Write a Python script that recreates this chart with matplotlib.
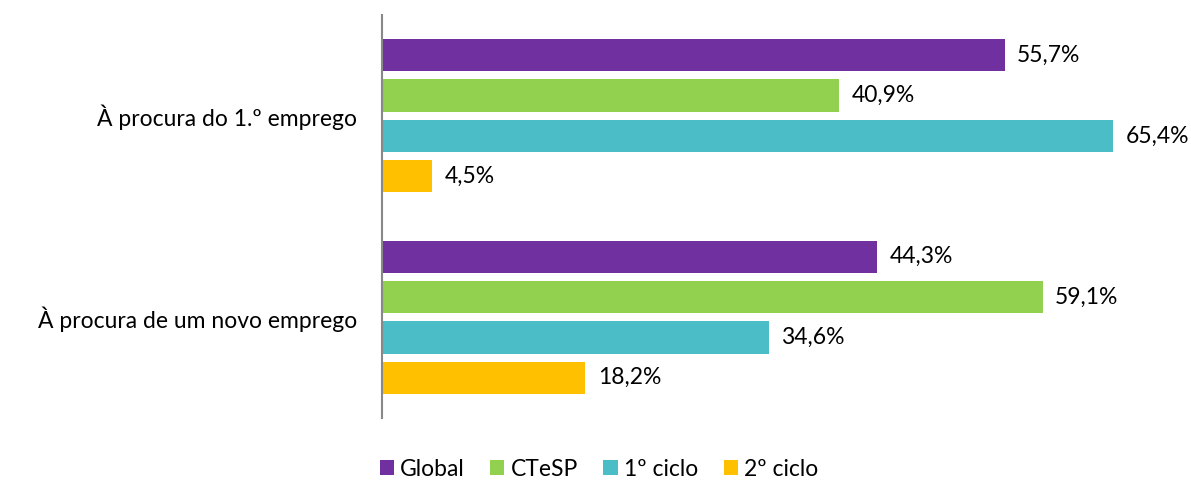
import numpy as np
import matplotlib.pyplot as plt
from matplotlib.patches import Patch

plt.rcParams['font.family'] = ['Lato', 'DejaVu Sans']

categories = ["À procura do 1.º emprego", "À procura de um novo emprego"]
series = ["Global", "CTeSP", "1º ciclo", "2º ciclo"]
global_vals = [55.7, 44.3]
ctesp_vals = [40.9, 59.1]
ciclo1_vals = [65.4, 34.6]
ciclo2_vals = [4.5, 18.2]
colors = ["#7030A0", "#92D050", "#4BBDC6", "#FFC000"]

values = [global_vals, ctesp_vals, ciclo1_vals, ciclo2_vals]
fs = 16.5

fig = plt.figure(figsize=(11.91, 4.83), dpi=100)
ax = fig.add_axes([0.3207, 0.1346, 0.6573, 0.8344])

y = np.arange(len(categories))
step = 0.2
height = 0.16
for i, (name, vals, c) in enumerate(zip(series, values, colors)):
    pos = y + (i - 1.5) * step
    ax.barh(pos, vals, height=height, color=c, label=name)
    for p, v in zip(pos, vals):
        ax.text(v + 1.1, p, f"{v:.1f}%".replace(".", ","), va="center",
                ha="left", fontsize=fs, color="#000000")

ax.set_xlim(0, 70)
ax.set_ylim(len(categories) - 0.5, -0.5)
ax.set_yticks(y)
ax.set_yticklabels(categories, fontsize=fs)
ax.tick_params(axis="y", length=0, pad=18)
ax.set_xticks([])
for s in ["top", "right", "bottom"]:
    ax.spines[s].set_visible(False)
ax.spines["left"].set_color("#888888")
ax.spines["left"].set_linewidth(1.5)

handles = [Patch(facecolor=c, label=n) for n, c in zip(series, colors)]
fig.legend(handles=handles, loc="center", bbox_to_anchor=(0.503, 0.028),
           ncol=4, frameon=False, fontsize=fs, handlelength=0.62,
           handleheight=0.62, handletextpad=0.28, columnspacing=1.1)

fig.savefig("out.png", dpi=100)
